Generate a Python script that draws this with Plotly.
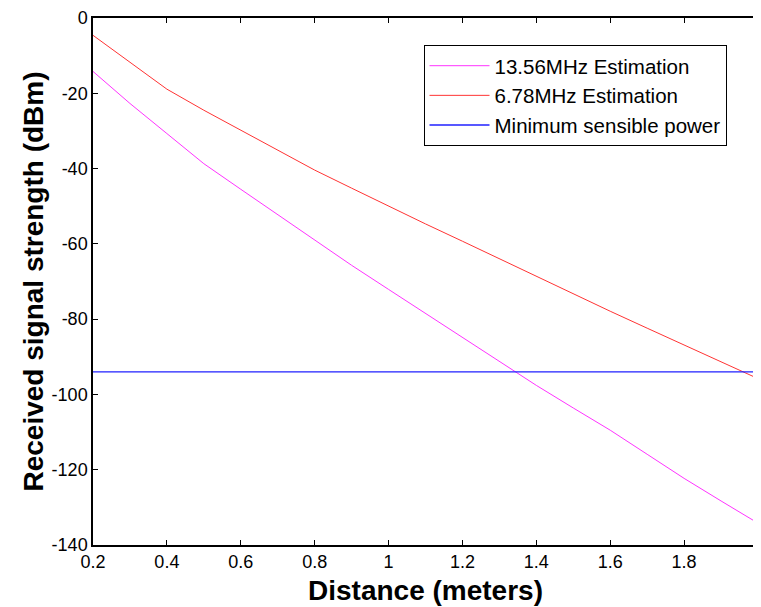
import plotly.graph_objects as go

distance = [0.2, 0.3, 0.4, 0.5, 0.6, 0.7, 0.8, 0.9, 1.0, 1.1, 1.2, 1.3, 1.4, 1.5, 1.6, 1.7, 1.8, 1.9, 2.0]
est_13_56 = [-14.2, -22.7, -30.7, -38.7, -45.5, -52.3, -59.0, -65.7, -72.1, -78.5, -85.0,
             -91.3, -97.6, -103.6, -109.5, -115.9, -122.3, -128.3, -134.2]
est_6_78 = [-4.6, -11.7, -18.9, -24.5, -29.8, -35.1, -40.4, -45.2, -50.0, -54.7, -59.3,
            -64.0, -68.7, -73.3, -77.9, -82.4, -86.9, -91.3, -95.8]
min_power = [-94.0] * len(distance)

x_ticks = [0.2, 0.4, 0.6, 0.8, 1.0, 1.2, 1.4, 1.6, 1.8, 2.0]
x_ticktext = ["0.2", "0.4", "0.6", "0.8", "1", "1.2", "1.4", "1.6", "1.8", "2"]
y_ticks = [0, -20, -40, -60, -80, -100, -120, -140]
y_ticktext = ["0", "-20", "-40", "-60", "-80", "-100", "-120", "-140"]

fig = go.Figure()
fig.add_trace(go.Scatter(x=distance, y=est_13_56, mode="lines", name="13.56MHz Estimation",
                         line=dict(color="#ff33ff", width=1)))
fig.add_trace(go.Scatter(x=distance, y=est_6_78, mode="lines", name="6.78MHz Estimation",
                         line=dict(color="#ff3333", width=1)))
fig.add_trace(go.Scatter(x=distance, y=min_power, mode="lines", name="Minimum sensible power",
                         line=dict(color="#2020ff", width=1.3)))

axis_common = dict(showline=True, linecolor="black", linewidth=1.5, mirror="ticks",
                   ticks="inside", ticklen=5, tickcolor="black", showgrid=False, zeroline=False,
                   automargin=False, ticklabeloverflow="allow",
                   tickfont=dict(family="Arial, Liberation Sans", size=18, color="black"))

fig.update_layout(
    width=753, height=599,
    margin=dict(l=85, r=3, t=10, b=62),
    paper_bgcolor="white", plot_bgcolor="white",
    font=dict(family="Arial, Liberation Sans", color="black"),
    xaxis=dict(range=[0.2, 2.0], tickvals=x_ticks, ticktext=x_ticktext,
               title=dict(text="<b>Distance (meters)</b>", font=dict(size=28), standoff=9),
               **axis_common),
    yaxis=dict(range=[-140, 0], tickvals=y_ticks, ticktext=y_ticktext,
               title=dict(text="<b>Received signal strength (dBm)</b>", font=dict(size=28), standoff=0),
               **axis_common),
    legend=dict(x=0.497, y=0.949, xanchor="left", yanchor="top",
                bordercolor="black", borderwidth=1, bgcolor="white",
                font=dict(size=20.5), tracegroupgap=0, itemwidth=60),
    showlegend=True,
)

fig.write_html("out.html")
